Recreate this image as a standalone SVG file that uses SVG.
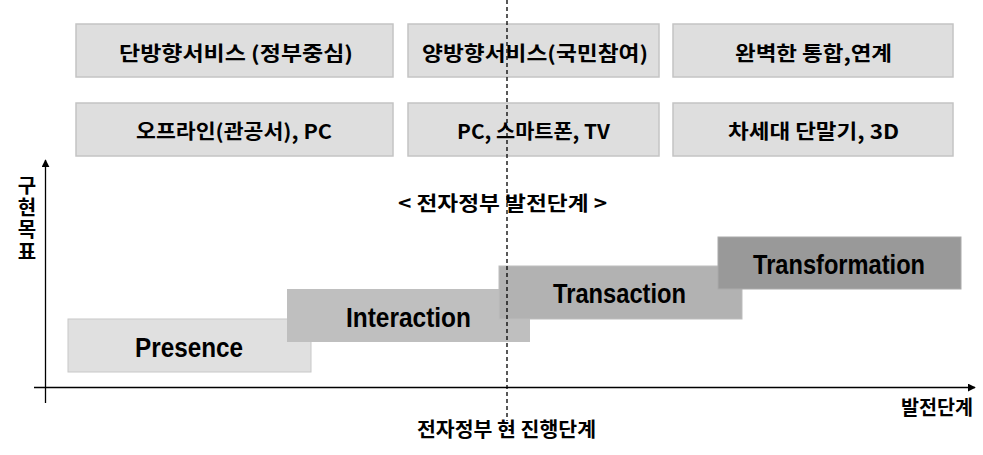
<svg xmlns="http://www.w3.org/2000/svg" width="983" height="455" viewBox="0 0 983 455">
<style>
.box{fill:#dedede;stroke:#c4c4c4;stroke-width:1.5}
.kt{font-family:"Noto Sans CJK KR","Noto Sans",sans-serif;font-weight:bold;font-size:20px;fill:#000}
.et{font-family:"Liberation Sans","Noto Sans",sans-serif;font-weight:bold;font-size:27px;fill:#000}
.ax{stroke:#000;stroke-width:1.3;fill:none}
</style>
<defs>
<marker id="arr" viewBox="0 0 10 10" refX="9" refY="5" markerWidth="8" markerHeight="8" markerUnits="userSpaceOnUse" orient="auto">
<path d="M0,0 L10,5 L0,10 z" fill="#000"/>
</marker>
</defs>
<rect width="983" height="455" fill="#fff"/>
<g id="top1"><rect class="box" x="76" y="24" width="317" height="53"/><text class="kt" x="119" y="61" textLength="234" lengthAdjust="spacingAndGlyphs">단방향서비스 (정부중심)</text></g>
<g id="top2"><rect class="box" x="408" y="24" width="251" height="53"/><text class="kt" x="422" y="61" textLength="226" lengthAdjust="spacingAndGlyphs">양방향서비스(국민참여)</text></g>
<g id="top3"><rect class="box" x="673" y="24" width="280" height="53"/><text class="kt" x="735" y="61" textLength="157" lengthAdjust="spacingAndGlyphs">완벽한 통합,연계</text></g>
<g id="mid1"><rect class="box" x="76" y="103" width="317" height="53"/><text class="kt" x="136" y="139" textLength="196" lengthAdjust="spacingAndGlyphs">오프라인(관공서), PC</text></g>
<g id="mid2"><rect class="box" x="408" y="103" width="251" height="53"/><text class="kt" x="457" y="139" textLength="153" lengthAdjust="spacingAndGlyphs">PC, 스마트폰, TV</text></g>
<g id="mid3"><rect class="box" x="673" y="103" width="280" height="53"/><text class="kt" x="728" y="139" textLength="171" lengthAdjust="spacingAndGlyphs">차세대 단말기, 3D</text></g>
<g id="title"><text class="kt" x="398" y="211" font-size="19" textLength="209" lengthAdjust="spacingAndGlyphs">&lt; 전자정부 발전단계 &gt;</text></g>
<g id="ylabel"><text class="kt" x="27" y="175" font-size="18" style="writing-mode:vertical-rl;letter-spacing:2px">구현목표</text></g>
<g id="presence"><rect x="68" y="319" width="243" height="53" fill="#e0e0e0" stroke="#c8c8c8" stroke-width="1"/><text class="et" x="135" y="357" textLength="108" lengthAdjust="spacingAndGlyphs">Presence</text></g>
<g id="interaction"><rect x="287" y="289" width="243" height="53" fill="#bfbfbf"/><text class="et" x="346" y="327" textLength="125" lengthAdjust="spacingAndGlyphs">Interaction</text></g>
<g id="transaction"><rect x="499" y="266" width="243" height="53" fill="#b2b2b2" stroke="#bdbdbd" stroke-width="1"/><text class="et" x="553" y="303" textLength="133" lengthAdjust="spacingAndGlyphs">Transaction</text></g>
<g id="transformation"><rect x="718" y="237" width="243" height="52" fill="#999999" stroke="#aaaaaa" stroke-width="1"/><text class="et" x="753" y="274" textLength="172" lengthAdjust="spacingAndGlyphs">Transformation</text></g>
<g id="connectors">
<line class="ax" x1="45.5" y1="403" x2="45.5" y2="160" marker-end="url(#arr)"/>
<line class="ax" x1="34" y1="387.5" x2="975" y2="387.5" marker-end="url(#arr)"/>
<line x1="507" y1="0" x2="507" y2="421" stroke="#000" stroke-width="1.3" stroke-dasharray="4,3"/>
</g>
<g id="xlabel"><text class="kt" x="901" y="415" font-size="18" textLength="72" lengthAdjust="spacingAndGlyphs">발전단계</text></g>
<g id="current"><text class="kt" x="417" y="437" font-size="18" textLength="179" lengthAdjust="spacingAndGlyphs">전자정부 현 진행단계</text></g>
</svg>
